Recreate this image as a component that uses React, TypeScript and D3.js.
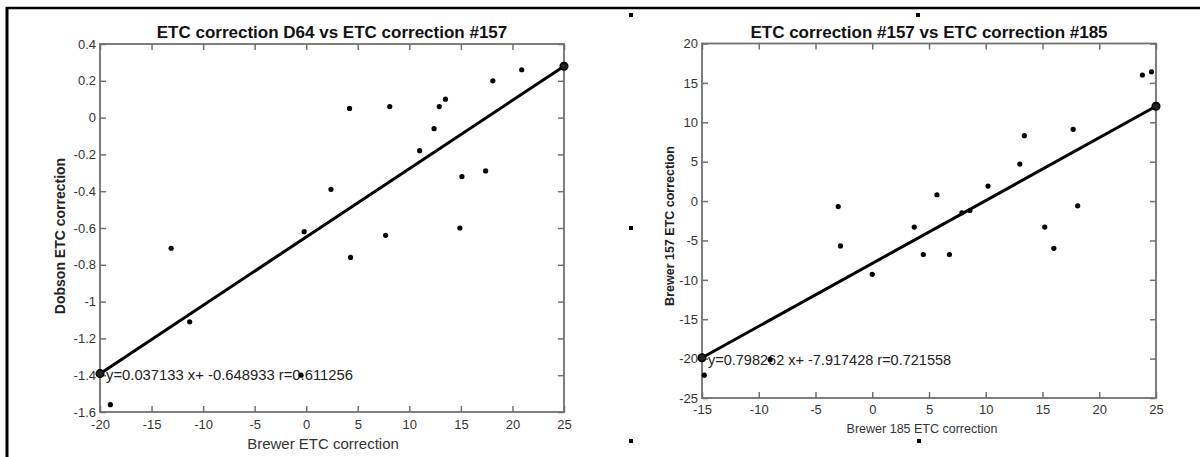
import { useEffect, useRef } from "react";
import * as d3 from "d3";

// left panel: Dobson D64 vs Brewer #157
const leftX = [4.2, 8.1, 2.4, -0.2, 7.7, 11.0, 12.4, 12.9, 13.5, 15.1, 14.9, 17.4, 18.1, 20.9, 4.3, -0.5, -13.1, -11.3, -19.0];
const leftY = [0.05, 0.06, -0.39, -0.62, -0.64, -0.18, -0.06, 0.06, 0.1, -0.32, -0.6, -0.29, 0.2, 0.26, -0.76, -1.4, -0.71, -1.11, -1.56];
const leftFitX = [-20, 25];
const leftFitY = [-1.3916, 0.2794];
const leftXTicks = [-20, -15, -10, -5, 0, 5, 10, 15, 20, 25];
const leftYTicks = [0.4, 0.2, 0, -0.2, -0.4, -0.6, -0.8, -1, -1.2, -1.4, -1.6];

// right panel: Brewer #157 vs Brewer #185
const rightX = [-3.0, -2.8, 0.0, -14.8, -9.0, 23.8, 24.6, 13.4, 17.7, 13.0, 10.2, 5.7, 3.7, 18.1, 15.2, 16.0, 7.9, 8.6, 4.5, 6.8];
const rightY = [-0.7, -5.7, -9.3, -22.1, -20.1, 16.0, 16.4, 8.3, 9.1, 4.7, 1.9, 0.8, -3.3, -0.6, -3.3, -6.0, -1.5, -1.2, -6.8, -6.8];
const rightFitX = [-15, 25];
const rightFitY = [-19.891, 12.039];
const rightXTicks = [-15, -10, -5, 0, 5, 10, 15, 20, 25];
const rightYTicks = [20, 15, 10, 5, 0, -5, -10, -15, -20, -25];

const FONT = "'Liberation Sans', Arial, sans-serif";

function drawPanel(svg: any, c: any) {
  const x = d3.scaleLinear().domain(c.xDomain).range(c.xRange);
  const y = d3.scaleLinear().domain(c.yDomain).range(c.yRange);
  const g = svg.append("g");
  const fmt = (d: any) => String(d).replace("\u2212", "-");
  const x0 = c.xRange[0], x1 = c.xRange[1];
  const yb = c.yRange[0], yt = c.yRange[1];

  const axisColor = "#707070";
  const styleAxis = (sel: any) => {
    sel.select(".domain").remove();
    sel.selectAll(".tick line").attr("stroke", axisColor).attr("stroke-width", 1.5);
    sel.selectAll(".tick text").attr("fill", "#333").style("font-family", FONT).style("font-size", "13px");
  };

  g.append("g")
    .attr("transform", `translate(0,${yb})`)
    .call(d3.axisBottom(x).tickValues(c.xTicks).tickFormat(fmt).tickSizeInner(-6).tickSizeOuter(0).tickPadding(c.xTickPad))
    .call(styleAxis);
  g.append("g")
    .attr("transform", `translate(0,${yt})`)
    .call(d3.axisTop(x).tickValues(c.xTicks).tickFormat(() => "").tickSizeInner(-6).tickSizeOuter(0))
    .call(styleAxis);
  g.append("g")
    .attr("transform", `translate(${x0},0)`)
    .call(d3.axisLeft(y).tickValues(c.yTicks).tickFormat(fmt).tickSizeInner(-6).tickSizeOuter(0).tickPadding(4))
    .call(styleAxis);
  g.append("g")
    .attr("transform", `translate(${x1},0)`)
    .call(d3.axisRight(y).tickValues(c.yTicks).tickFormat(() => "").tickSizeInner(-6).tickSizeOuter(0))
    .call(styleAxis);

  g.append("rect")
    .attr("x", x0)
    .attr("y", yt)
    .attr("width", x1 - x0)
    .attr("height", yb - yt)
    .attr("fill", "none")
    .attr("stroke", axisColor)
    .attr("stroke-width", 1.8);

  // regression line
  const fit = c.fitX.map((v: number, i: number) => [v, c.fitY[i]]);
  g.append("path")
    .attr("d", d3.line().x((d: any) => x(d[0])).y((d: any) => y(d[1]))(fit))
    .attr("stroke", "#000")
    .attr("stroke-width", 3)
    .attr("fill", "none");
  g.selectAll(".end")
    .data(fit)
    .enter()
    .append("circle")
    .attr("cx", (d: any) => x(d[0]))
    .attr("cy", (d: any) => y(d[1]))
    .attr("r", 3.8)
    .attr("fill", "#222")
    .attr("stroke", "#000")
    .attr("stroke-width", 1.5);

  // equation text
  g.append("text")
    .attr("x", c.eqX)
    .attr("y", c.eqY)
    .style("font-family", FONT)
    .style("font-size", c.eqSize)
    .attr("fill", "#222")
    .text(c.eq);

  // points
  g.selectAll(".pt")
    .data(c.px.map((v: number, i: number) => [v, c.py[i]]))
    .enter()
    .append("circle")
    .attr("cx", (d: any) => x(d[0]))
    .attr("cy", (d: any) => y(d[1]))
    .attr("r", 2.6)
    .attr("fill", "#000");

  // titles and labels
  g.append("text")
    .attr("x", (x0 + x1) / 2)
    .attr("y", c.titleY)
    .attr("text-anchor", "middle")
    .style("font-family", FONT)
    .style("font-size", "17px")
    .style("font-weight", "bold")
    .attr("fill", "#111")
    .text(c.title);
  g.append("text")
    .attr("x", c.xLabelX)
    .attr("y", c.xLabelY)
    .attr("text-anchor", "middle")
    .style("font-family", FONT)
    .style("font-size", c.xLabelSize)
    .attr("fill", "#333")
    .text(c.xLabel);
  g.append("text")
    .attr("transform", `translate(${c.yLabelX},${c.yLabelY}) rotate(-90)`)
    .attr("text-anchor", "middle")
    .style("font-family", FONT)
    .style("font-size", c.yLabelSize)
    .style("font-weight", "bold")
    .attr("fill", "#222")
    .text(c.yLabel);
}

export default function App() {
  const ref = useRef<SVGSVGElement>(null);

  useEffect(() => {
    const svg = d3.select(ref.current);
    svg.selectAll("*").remove();

    // page frame
    svg.append("line").attr("x1", 6).attr("x2", 1200).attr("y1", 8).attr("y2", 8).attr("stroke", "#000").attr("stroke-width", 2.5);
    svg.append("line").attr("x1", 7).attr("x2", 7).attr("y1", 7).attr("y2", 457).attr("stroke", "#000").attr("stroke-width", 3);

    drawPanel(svg, {
      xDomain: [-20, 25], yDomain: [-1.6, 0.4],
      xRange: [100, 564], yRange: [412, 44],
      xTicks: leftXTicks, yTicks: leftYTicks, xTickPad: 8,
      px: leftX, py: leftY, fitX: leftFitX, fitY: leftFitY,
      title: "ETC correction D64 vs ETC correction #157", titleY: 38,
      eq: "y=0.037133 x+ -0.648933 r=0.611256", eqX: 106, eqY: 380, eqSize: "14.8px",
      xLabel: "Brewer ETC correction", xLabelX: 323, xLabelY: 449, xLabelSize: "15px",
      yLabel: "Dobson ETC correction", yLabelX: 65, yLabelY: 236, yLabelSize: "14px",
    });
    drawPanel(svg, {
      xDomain: [-15, 25], yDomain: [-25, 20],
      xRange: [702, 1156], yRange: [398, 43.5],
      xTicks: rightXTicks, yTicks: rightYTicks, xTickPad: 7,
      px: rightX, py: rightY, fitX: rightFitX, fitY: rightFitY,
      title: "ETC correction #157 vs ETC correction #185", titleY: 37.5,
      eq: "y=0.798262 x+ -7.917428 r=0.721558", eqX: 708, eqY: 365, eqSize: "14.5px",
      xLabel: "Brewer 185 ETC correction", xLabelX: 922, xLabelY: 433, xLabelSize: "12.5px",
      yLabel: "Brewer 157 ETC correction", yLabelX: 674, yLabelY: 226, yLabelSize: "12.5px",
    });

    // selection handles of the embedded picture
    const handles = [[631, 15], [918, 15], [631, 228], [631, 441], [919, 441]];
    svg.selectAll(".h")
      .data(handles)
      .enter()
      .append("rect")
      .attr("x", (d) => d[0] - 2)
      .attr("y", (d) => d[1] - 2)
      .attr("width", 4)
      .attr("height", 4)
      .attr("fill", "#000");
  }, []);

  return (
    <svg
      ref={ref}
      width={1200}
      height={457}
      style={{ position: "absolute", left: 0, top: 0, background: "#fff" }}
    />
  );
}
